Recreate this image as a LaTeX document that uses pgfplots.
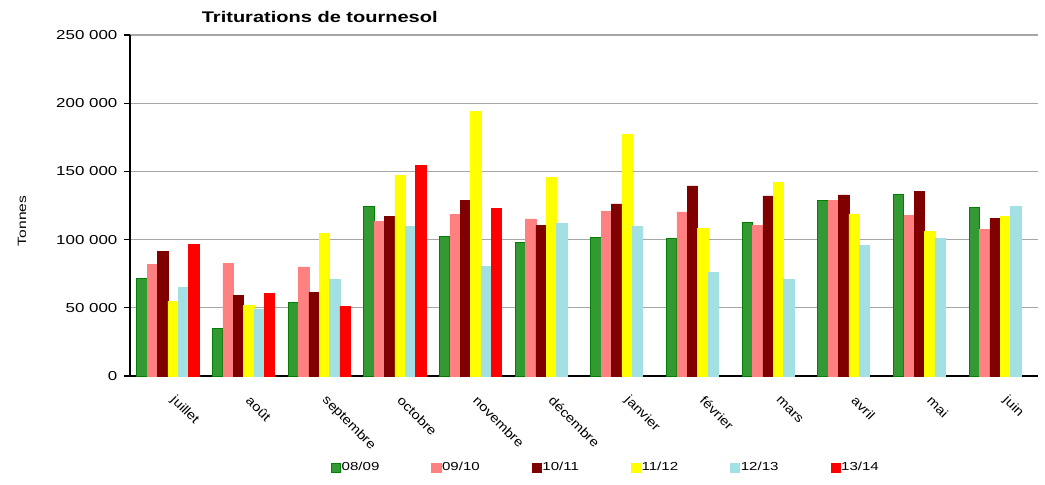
\documentclass[border=0pt]{standalone}
\usepackage{pgfplots}
\pgfplotsset{compat=1.18}
\usepackage{graphicx}
\usepackage{fontspec}
\setmainfont{Liberation Sans}
\newcommand\sx[1]{\scalebox{1.3}[1]{#1}}
\newcommand\sxr[1]{\scalebox{1.15}[1]{#1}}
\definecolor{cA}{HTML}{339933}
\definecolor{cAb}{HTML}{007F00}
\definecolor{cB}{HTML}{FF8080}
\definecolor{cC}{HTML}{800000}
\definecolor{cD}{HTML}{FFFF00}
\definecolor{cE}{HTML}{A3E0E3}
\definecolor{cF}{HTML}{FF0000}
\definecolor{gridc}{HTML}{A6A6A6}
\begin{document}
\begin{tikzpicture}
\path[use as bounding box] (-65pt,-54pt) rectangle (457.5pt,188pt);
\begin{axis}[
  at={(0,0)}, anchor=south west,
  scale only axis, width=454pt, height=170.5pt,
  ybar=0pt, bar width=0.137,
  xmin=-0.5, xmax=11.5, ymin=0, ymax=250000,
  axis x line*=bottom, axis y line*=left,
  axis line style={-, black, line width=0.6pt},
  xtick={0,...,11},
  xticklabels={\sxr{juillet},\sxr{août},\sxr{septembre},\sxr{octobre},\sxr{novembre},\sxr{décembre},\sxr{janvier},\sxr{février},\sxr{mars},\sxr{avril},\sxr{mai},\sxr{juin}},
  x tick style={draw=none},
  minor xtick={-0.5,0.5,...,11.5},
  minor x tick style={black, line width=0.6pt},
  minor tick length=2.8pt,
  tick align=outside,
  xticklabel style={font=\fontsize{6.4}{7}\selectfont, rotate=-45, anchor=west},
  xticklabel shift=6pt,
  ytick={0,50000,100000,150000,200000,250000},
  yticklabels={\sx{0},\sx{50 000},\sx{100 000},\sx{150 000},\sx{200 000},\sx{250 000}},
  scaled y ticks=false,
  y tick style={black, line width=0.6pt},
  major tick length=2.8pt,
  yticklabel style={font=\fontsize{6.5}{7.5}\selectfont},
  ymajorgrids, grid style={gridc, line width=0.65pt},
  ylabel={\sx{Tonnes}},
  ylabel style={at={(rel axis cs:-0.119,0.455)}, anchor=center, font=\fontsize{6}{7}\selectfont},
  clip=false,
  legend columns=6,
  legend style={draw=none, at={(rel axis cs:0.525,-0.27)}, anchor=center,
    font=\fontsize{5.8}{7}\selectfont,
    /tikz/every even column/.append style={column sep=24pt},
    /tikz/every odd column/.append style={column sep=-1.5pt}},
  legend image code/.code={\draw[#1] (0pt,-2.3pt) rectangle (4.6pt,2.3pt);},
]
\addplot[fill=cA, draw=cAb, line width=0.5pt] coordinates {(0,71800) (1,34500) (2,54100) (3,124500) (4,102400) (5,97800) (6,101200) (7,100700) (8,112500) (9,128400) (10,133000) (11,123200)};
\addlegendentry{\sx{08/09}}
\addplot[fill=cB, draw=cB, line width=0.2pt] coordinates {(0,81800) (1,82600) (2,80100) (3,113400) (4,118300) (5,115200) (6,120800) (7,120300) (8,110300) (9,128900) (10,117800) (11,107600)};
\addlegendentry{\sx{09/10}}
\addplot[fill=cC, draw=cC, line width=0.2pt] coordinates {(0,91400) (1,59000) (2,61300) (3,117100) (4,128900) (5,110500) (6,126200) (7,139400) (8,132000) (9,132800) (10,135500) (11,115600)};
\addlegendentry{\sx{10/11}}
\addplot[fill=cD, draw=cD, line width=0.2pt] coordinates {(0,54600) (1,51700) (2,104600) (3,147200) (4,193800) (5,145800) (6,177400) (7,108300) (8,142100) (9,118800) (10,106100) (11,117100)};
\addlegendentry{\sx{11/12}}
\addplot[fill=cE, draw=cE, line width=0.2pt] coordinates {(0,64900) (1,49200) (2,70800) (3,109800) (4,80400) (5,112000) (6,109800) (7,76000) (8,70800) (9,95800) (10,100900) (11,124500)};
\addlegendentry{\sx{12/13}}
\addplot[fill=cF, draw=cF, line width=0.2pt] coordinates {(0,96500) (1,60500) (2,51000) (3,154600) (4,123000)};
\addlegendentry{\sx{13/14}}
\node[anchor=center, font=\fontsize{7.7}{9}\selectfont] at (rel axis cs:0.209,1.052) {\sx{\textbf{Triturations de tournesol}}};
\end{axis}
\end{tikzpicture}
\end{document}
